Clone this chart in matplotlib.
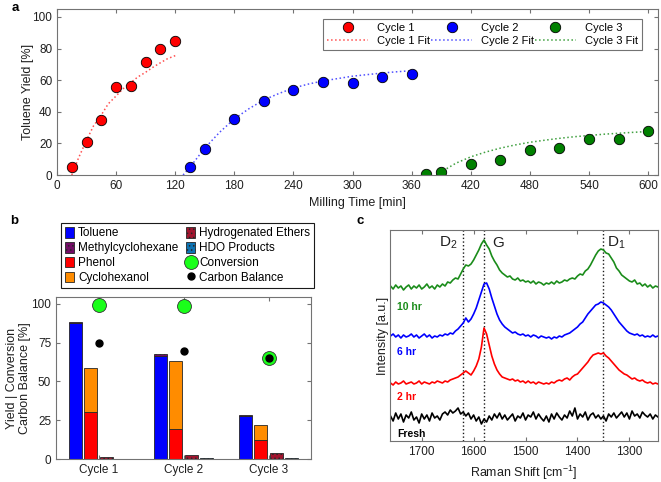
import matplotlib
matplotlib.use('Agg')
import matplotlib.pyplot as plt
import numpy as np
from matplotlib.patches import Patch
from matplotlib.lines import Line2D

plt.rcParams['font.family'] = ['Liberation Sans', 'DejaVu Sans']
plt.rcParams['mathtext.fontset'] = 'custom'
plt.rcParams['mathtext.rm'] = 'Liberation Sans'
plt.rcParams['mathtext.default'] = 'regular'
plt.rcParams['hatch.linewidth'] = 0.6

# ---------------- Panel a data ----------------
c1_t = [15, 30, 45, 60, 75, 90, 105, 120]
c1_y = [5, 21, 35, 55.5, 56.5, 71.5, 79.5, 84.5]
c2_t = [135, 150, 180, 210, 240, 270, 300, 330, 360]
c2_y = [5, 16.5, 35.5, 47, 54, 59, 58.5, 62, 64]
c3_t = [375, 390, 420, 450, 480, 510, 540, 570, 600]
c3_y = [0.5, 2, 7, 9.5, 16, 17, 22.5, 23, 28]

f1_t = [15, 22, 30, 37, 45, 52, 60, 67, 75, 82, 90, 97, 105, 112, 120]
f1_y = [0, 11, 22, 31, 38, 45, 50, 54.5, 58.5, 62, 65, 68, 71, 73.5, 75.5]
f2_t = [128, 135, 150, 165, 180, 195, 210, 225, 240, 255, 270, 285, 300, 315, 330, 345, 360]
f2_y = [0, 5, 17, 27, 35.5, 42, 47.5, 51.5, 55, 57.5, 59.5, 61, 62.5, 63.5, 64.5, 65.3, 66]
f3_t = [385, 390, 405, 420, 435, 450, 465, 480, 495, 510, 525, 540, 555, 570, 585, 600]
f3_y = [0, 2, 7.5, 11.5, 14.5, 17, 19, 20.7, 22, 23.2, 24.2, 25, 25.8, 26.4, 27, 27.5]

# ---------------- Panel b data ----------------
cycles = ['Cycle 1', 'Cycle 2', 'Cycle 3']
toluene = [88, 66.5, 28]
methylcyclohexane = [0.5, 1.5, 0.5]
phenol = [30, 19.5, 12]
cyclohexanol = [28.5, 43.5, 10]
hyd_ethers = [1, 2.5, 4]
hdo_products = [0.3, 0.5, 0.4]
conversion = [99.5, 99, 65]
carbon_balance = [75, 69.5, 65]

# ---------------- Panel c data ----------------
raman_shift = np.arange(1760, 1244, -5)
green_10hr = [155,152,156,153,155,151,154,156,152,155,
              153,156,152,154,157,153,155,152,156,154,
              157,155,159,158,161,163,162,167,172,176,
              175,177,181,186,191,197,201,196,192,185,
              180,176,171,168,166,164,165,162,161,163,
              160,161,159,160,158,160,157,159,158,156,
              158,157,159,157,160,158,159,161,160,162,
              163,162,165,167,166,170,172,176,181,186,
              190,192,191,188,187,183,179,173,170,166,
              164,162,160,159,161,157,158,155,157,154,
              156,153,155,154]
blue_6hr = [105,107,104,106,103,106,104,105,107,104,
            106,103,105,107,104,106,103,105,104,106,
            105,107,106,108,107,110,112,115,118,123,
            119,122,127,133,141,149,157,158,152,143,
            135,127,121,117,114,112,110,108,109,107,
            106,107,105,106,104,106,105,103,105,104,
            103,104,102,104,103,105,104,106,107,108,
            110,112,114,117,119,123,127,130,133,136,
            137,139,138,136,134,131,127,123,119,116,
            113,110,108,107,106,107,105,106,104,105,
            104,106,104,105]
red_2hr = [58,56,59,57,58,60,57,58,59,57,
           58,60,57,59,58,57,59,58,60,59,
           58,60,59,61,62,63,64,66,68,70,
           68,66,70,75,82,94,113,107,96,85,
           77,71,67,64,63,62,61,62,60,61,
           59,60,58,60,58,59,57,59,58,57,
           58,57,59,58,60,61,60,62,63,61,
           64,66,67,70,73,76,79,83,86,87,
           88,87,88,85,83,80,77,74,71,69,
           67,66,64,62,63,61,60,61,59,58,
           59,57,58,57]
black_fresh = [25,20,28,22,27,19,26,23,29,21,
               24,18,27,22,26,20,28,23,25,21,
               27,29,26,31,28,30,33,27,29,25,
               28,22,26,20,24,17,22,19,25,21,
               27,23,28,22,26,21,24,27,20,25,
               23,28,21,26,24,29,22,27,23,20,
               25,19,27,22,28,24,21,26,23,30,
               25,33,22,27,24,29,21,26,28,23,
               26,22,25,20,27,24,28,23,26,29,
               24,28,22,30,25,27,23,29,26,24,
               27,22,26,24]
band_pos = [1620, 1580, 1350]

spine_col = '0.45'
txt_col = '0.12'

def style_axes(ax):
    for s in ax.spines.values():
        s.set_color(spine_col)
        s.set_linewidth(0.8)
    ax.tick_params(direction='in', top=True, right=True, length=3,
                   color=spine_col, labelcolor=txt_col, labelsize=8.5, width=0.8)

W, H = 661, 482
fig = plt.figure(figsize=(W / 100, H / 100), dpi=100)

# ---------------- Panel a ----------------
ax_a = fig.add_axes([57 / W, 1 - 175 / H, 601 / W, 166 / H])
style_axes(ax_a)
cols = [(1, 0, 0), (0, 0, 1), (0, 0.5, 0)]
fitcols = ['#ff5050', '#5050ff', '#40a040']
handles = []
for (t, y, ft, fy, c, fc, n) in [(c1_t, c1_y, f1_t, f1_y, cols[0], fitcols[0], 1),
                                 (c2_t, c2_y, f2_t, f2_y, cols[1], fitcols[1], 2),
                                 (c3_t, c3_y, f3_t, f3_y, cols[2], fitcols[2], 3)]:
    hf, = ax_a.plot(ft, fy, ':', color=fc, lw=1.1, label=f'Cycle {n} Fit')
    hp, = ax_a.plot(t, y, 'o', ms=7.5, mfc=c, mec='k', mew=0.6, ls='none',
                    label=f'Cycle {n}')
    handles += [hp, hf]
ax_a.set_xlim(0, 610)
ax_a.set_ylim(0, 105)
ax_a.set_xticks(range(0, 601, 60))
ax_a.set_yticks(range(0, 101, 20))
ax_a.set_xlabel('Milling Time [min]', fontsize=9, color=txt_col, labelpad=4)
ax_a.set_ylabel('Toluene Yield [%]', fontsize=9, color=txt_col, labelpad=-1)
leg = ax_a.legend(handles=handles, ncol=3, loc='center',
                  bbox_to_anchor=(0.434, 0.741, 0.548, 0.211), mode='expand',
                  fontsize=8, handlelength=3.7, handletextpad=0.8,
                  columnspacing=1.0, labelspacing=0.3, borderpad=0.35,
                  fancybox=False, edgecolor=spine_col, framealpha=1)
leg.get_frame().set_linewidth(0.8)
fig.text(12 / W, 1 - 8 / H, 'a', fontsize=9.5, weight='bold', va='center')

# ---------------- Panel b ----------------
ax_b = fig.add_axes([56 / W, 1 - 459 / H, 255 / W, 162 / H])
style_axes(ax_b)
x = np.arange(1, len(cycles) + 1)
bw = 0.15
off = [-0.27, -0.09, 0.09, 0.27]
c_tol = (0, 0, 1)
c_mch = (0.45, 0.05, 0.40)
c_phe = (1, 0, 0)
c_cyc = (1, 0.55, 0)
c_he = (0.63, 0.08, 0.18)
c_hdo = (0.05, 0.45, 0.70)
ec = '0.15'
ax_b.bar(x + off[0], toluene, bw, color=c_tol, edgecolor=ec, lw=0.6)
ax_b.bar(x + off[0], methylcyclohexane, bw, bottom=toluene, color=c_mch,
         edgecolor=ec, lw=0.6, hatch='....')
ax_b.bar(x + off[1], phenol, bw, color=c_phe, edgecolor=ec, lw=0.6)
ax_b.bar(x + off[1], cyclohexanol, bw, bottom=phenol, color=c_cyc, edgecolor=ec, lw=0.6)
ax_b.bar(x + off[2], hyd_ethers, bw, color=c_he, edgecolor=ec, lw=0.6, hatch='....')
ax_b.bar(x + off[3], hdo_products, bw, color=c_hdo, edgecolor=ec, lw=0.6, hatch='....')
ax_b.plot(x, conversion, 'o', ms=10, mfc=(0.1, 1, 0.1), mec='0.2', mew=0.6, ls='none',
          zorder=5, clip_on=False)
ax_b.plot(x, carbon_balance, 'o', ms=5, mfc='k', mec='k', ls='none', zorder=6)
ax_b.set_xlim(0.5, 3.5)
ax_b.set_ylim(0, 104.5)
ax_b.set_xticks(x)
ax_b.set_xticklabels(cycles)
ax_b.set_yticks([0, 25, 50, 75, 100])
ax_b.set_ylabel('Yield | Conversion\nCarbon Balance [%]', fontsize=9, color=txt_col,
                labelpad=0, linespacing=1.15)

hb = [Patch(facecolor=c_tol, edgecolor=ec, lw=0.6, label='Toluene'),
      Patch(facecolor=c_mch, edgecolor=ec, lw=0.6, hatch='....', label='Methylcyclohexane'),
      Patch(facecolor=c_phe, edgecolor=ec, lw=0.6, label='Phenol'),
      Patch(facecolor=c_cyc, edgecolor=ec, lw=0.6, label='Cyclohexanol'),
      Patch(facecolor=c_he, edgecolor=ec, lw=0.6, hatch='....', label='Hydrogenated Ethers'),
      Patch(facecolor=c_hdo, edgecolor=ec, lw=0.6, hatch='....', label='HDO Products'),
      Line2D([], [], marker='o', ms=10, mfc=(0.1, 1, 0.1), mec='0.2', mew=0.6, ls='none',
             label='Conversion'),
      Line2D([], [], marker='o', ms=5, mfc='k', mec='k', ls='none', label='Carbon Balance')]
legb = fig.legend(handles=hb, ncol=2, loc='upper left',
                  bbox_to_anchor=(55 / W, 1 - 217 / H),
                  fontsize=8.5, handlelength=0.8, handleheight=1.0, handletextpad=0.3,
                  labelspacing=0.22, borderpad=0.35, columnspacing=0.65,
                  fancybox=False, edgecolor='0.1', framealpha=1)
legb.get_frame().set_linewidth(0.8)
fig.text(10 / W, 1 - 221 / H, 'b', fontsize=9.5, weight='bold', va='center')

# ---------------- Panel c ----------------
ax_c = fig.add_axes([390 / W, 1 - 441 / H, 268 / W, 211 / H])
style_axes(ax_c)
ax_c.tick_params(left=False, right=False, labelleft=False)
for bp in band_pos:
    ax_c.axvline(bp, color='0.1', ls=':', lw=1.0, zorder=1)
ax_c.plot(raman_shift, black_fresh, color='k', lw=1.2)
ax_c.plot(raman_shift, red_2hr, color=(1, 0, 0), lw=1.2)
ax_c.plot(raman_shift, blue_6hr, color=(0, 0, 1), lw=1.2)
ax_c.plot(raman_shift, green_10hr, color=(0.1, 0.55, 0.1), lw=1.2)
ax_c.set_xlim(1761, 1245)
ax_c.set_ylim(0, 211)
ax_c.set_xticks([1700, 1600, 1500, 1400, 1300])
ax_c.set_xlabel('Raman Shift [cm$^{-1}$]', fontsize=9, color=txt_col, labelpad=4)
ax_c.set_ylabel('Intensity [a.u.]', fontsize=9, color=txt_col, labelpad=1)
ax_c.text(1649, 198, 'D$_2$', fontsize=11, ha='center', va='center', color=txt_col)
ax_c.text(1553, 198, 'G', fontsize=11, ha='center', va='center', color=txt_col)
ax_c.text(1326, 198, 'D$_1$', fontsize=11, ha='center', va='center', color=txt_col)
ax_c.text(1748, 134, '10 hr', fontsize=7.5, weight='bold', color=(0.1, 0.55, 0.1), va='center')
ax_c.text(1748, 89, '6 hr', fontsize=7.5, weight='bold', color=(0, 0, 1), va='center')
ax_c.text(1748, 44, '2 hr', fontsize=7.5, weight='bold', color=(1, 0, 0), va='center')
ax_c.text(1748, 7, 'Fresh', fontsize=7.5, weight='bold', color='k', va='center')
fig.text(357 / W, 1 - 221 / H, 'c', fontsize=9.5, weight='bold', va='center')

fig.savefig('out.png', dpi=100)
